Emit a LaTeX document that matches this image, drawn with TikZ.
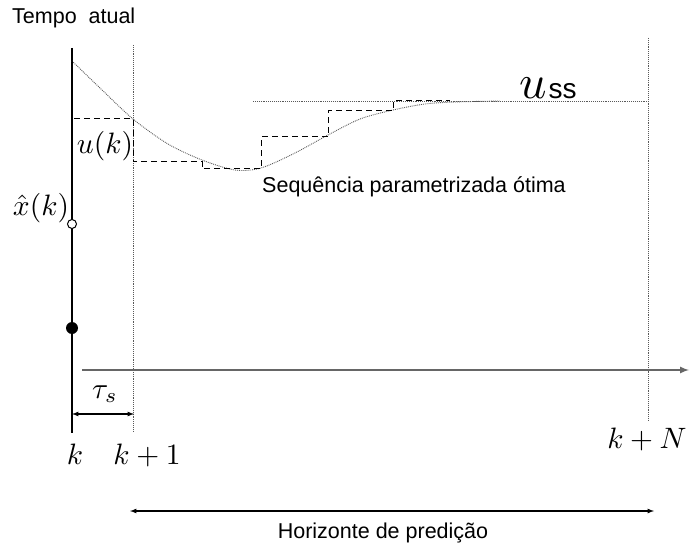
\documentclass[tikz,border=0pt]{standalone}
\usepackage{amsmath, amssymb}
\usepackage{fontspec}
\setsansfont{Liberation Sans}
\usepackage{xcolor}
\usepackage{tikz}
\usetikzlibrary{calc, positioning}

\tikzset{
    rotulo/.style={font=\sffamily\fontsize{21.5}{24}\selectfont, inner sep=0pt},
    mat/.style={scale=2.95, inner sep=0pt},
    grade/.style={densely dotted, gray!70!black, line width=0.9pt},
    degrau/.style={black, line width=1pt, dash pattern=on 6pt off 4pt}
}

\begin{document}
\begin{tikzpicture}[>=latex, x=1pt, y=-1pt]
    \useasboundingbox (0,0) rectangle (692,545);

    % 1. Linha do tempo atual e linhas pontilhadas
    \coordinate (k0top) at (72,48);   \coordinate (k0bot) at (72,433);
    \coordinate (k1top) at (133,45);  \coordinate (k1bot) at (133,432);
    \coordinate (kNtop) at (648,38);  \coordinate (kNbot) at (648,420);
    \draw[line width=1.3pt] (k0top) -- (k0bot);
    \draw[grade] (k1top) -- (k1bot);
    \draw[grade] (kNtop) -- (kNbot);

    % 2. Eixo do tempo (cinza)
    \coordinate (eixoA) at (82,370);
    \coordinate (eixoB) at (689,370);
    \draw[->, gray!80!black, line width=2pt] (eixoA) -- (eixoB);

    % 3. Estados: aberto e fechado
    \node[circle, draw, fill=white, line width=1pt, minimum size=9pt, inner sep=0pt] (xk) at (72,224) {};
    \node[circle, fill=black, minimum size=12pt, inner sep=0pt] (xant) at (72,328) {};

    % 4. Valor de regime
    \coordinate (ssA) at (253,101);
    \coordinate (ssB) at (648,101);
    \draw[grade] (ssA) -- (ssB);

    % 5. Curva otima (pontilhada)
    \draw[grade, smooth] plot coordinates {(72,61) (100,88) (133,119) (168,144)
        (202,160) (235,170) (261,168) (295,153) (328,135) (360,119) (393,110)
        (425,104) (455,102) (500,101)};

    % 6. Sequencia parametrizada (degraus tracejados)
    \draw[degrau] (72,61) |- (133,119) |- (202,162) |- (261,169) |- (328,137)
        |- (393,111) |- (450,101);

    % 7. Setas de tau_s e do horizonte
    \coordinate (tauA) at (72,414);  \coordinate (tauB) at (134,414);
    \draw[<->, line width=1.2pt] (tauA) -- (tauB);
    \coordinate (horA) at (130,511); \coordinate (horB) at (654,511);
    \draw[<->, line width=1.2pt] (horA) -- (horB);

    % 8. Rotulos
    \node[rotulo, anchor=base west] (tempo) at (12,24) {Tempo\ \ atual};
    \node[rotulo, anchor=base west] (seq) at (262,193) {Sequência parametrizada ótima};
    \node[rotulo, anchor=base] (horiz) at (383,538) {Horizonte de predição};
    \node[mat] (lxk) at (41,208) {$\hat{x}(k)$};
    \node[mat] (luk) at (105,146) {$u(k)$};
    \node[mat] (ltau) at (105,394) {$\tau_s$};
    \node[mat, anchor=base] (lk) at (75,464) {$k$};
    \node[mat, anchor=base] (lk1) at (147,464) {$k+1$};
    \node[mat, anchor=base] (lkN) at (647,448) {$k+N$};
    \node[inner sep=0pt, anchor=base west, scale=4.8] (lu) at (519,99) {$u$};
    \node[inner sep=0pt, anchor=base west, font=\sffamily\fontsize{28}{28}\selectfont]
        (lss) at (lu.base east) {ss};
\end{tikzpicture}
\end{document}
